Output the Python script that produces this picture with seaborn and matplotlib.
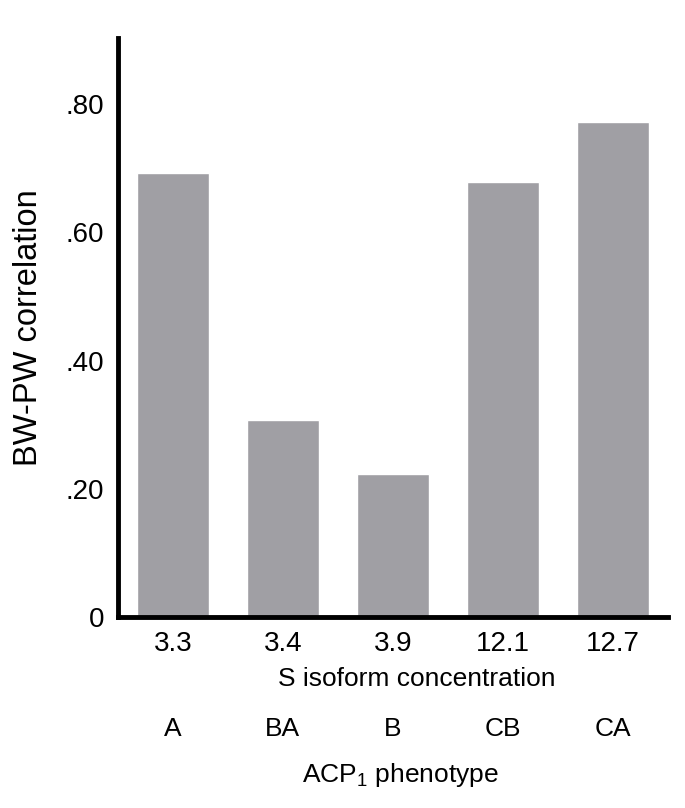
import matplotlib
matplotlib.use('Agg')
import matplotlib.pyplot as plt
import seaborn as sns
import pandas as pd

# values
concentration = ['3.3', '3.4', '3.9', '12.1', '12.7']
phenotype = ['A', 'BA', 'B', 'CB', 'CA']
correlation = [0.692, 0.307, 0.223, 0.678, 0.772]
y_ticks = [0, 0.2, 0.4, 0.6, 0.8]
y_ticklabels = ['0', '.20', '.40', '.60', '.80']

df = pd.DataFrame({'conc': concentration, 'corr': correlation})

sns.set_style('white')
plt.rcParams['font.family'] = ['Liberation Sans', 'DejaVu Sans']
plt.rcParams['text.color'] = 'black'
plt.rcParams['axes.labelcolor'] = 'black'
plt.rcParams['mathtext.fontset'] = 'custom'
plt.rcParams['mathtext.rm'] = 'Liberation Sans'

fig = plt.figure(figsize=(6.85, 8.08), dpi=100)
ax = fig.add_axes([0.172, 0.236, 0.803, 0.717])

sns.barplot(data=df, x='conc', y='corr', color='#a09fa4', saturation=1,
            width=0.66, ax=ax)

ax.set_xlim(-0.5, 4.5)
ax.set_ylim(0, 0.903)
ax.set_yticks(y_ticks)
ax.set_yticklabels(y_ticklabels)

for s in ['top', 'right']:
    ax.spines[s].set_visible(False)
for s in ['left', 'bottom']:
    ax.spines[s].set_linewidth(3.5)
    ax.spines[s].set_color('black')

ax.tick_params(axis='both', direction='out', length=7, width=3,
               labelsize=20, colors='black', pad=3)
ax.set_xlabel('S isoform concentration', fontsize=19)
ax.xaxis.set_label_coords(0.544, -0.086)
ax.set_ylabel('BW-PW correlation', fontsize=23.5)
ax.yaxis.set_label_coords(-0.134, 0.5)

# second row of category labels under the axis
for i, p in enumerate(phenotype):
    ax.text(i, -0.192, p, transform=ax.get_xaxis_transform(),
            ha='center', va='center', fontsize=19)
fig.text(0.585, 0.041, r'ACP$_\mathregular{1}$ phenotype', ha='center',
         va='center', fontsize=19)

plt.savefig('out.png', dpi=100)
plt.close()
